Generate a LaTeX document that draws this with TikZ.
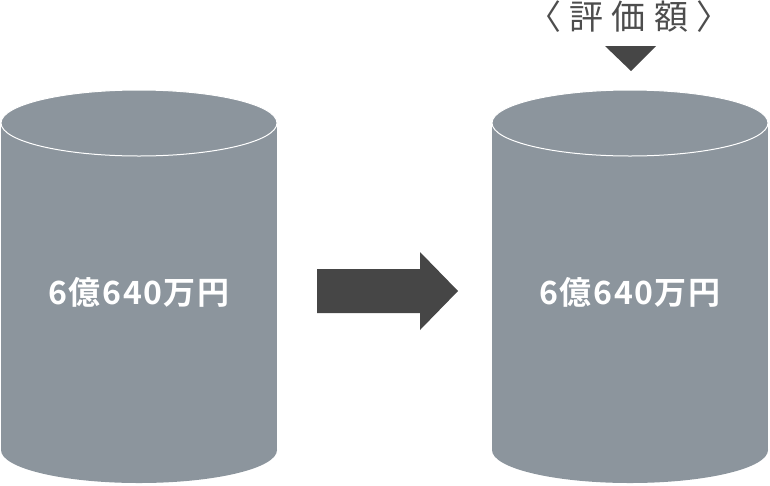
\documentclass[tikz,border=0pt]{standalone}
\usepackage{fontspec}
\newfontfamily\jpfont{Noto Sans CJK JP}[LetterSpace=2]
\newfontfamily\jpbold{Noto Sans CJK JP Bold}[LetterSpace=5]
\definecolor{drum}{HTML}{8C959D}
\definecolor{ink}{HTML}{464646}
\definecolor{headgray}{HTML}{4D4D4D}
\tikzset{
  amount/.style={text=white,font=\jpbold\fontsize{32}{32}\selectfont},
  heading/.style={text=headgray,font=\jpfont\fontsize{34}{34}\selectfont}
}
\begin{document}
\begin{tikzpicture}[x=1pt,y=-1pt]
\useasboundingbox (0,0) rectangle (770,485);
% the two cylinders
\foreach \cx in {139,630}{
  \fill[drum] (\cx-138,123) rectangle (\cx+138,450);
  \fill[drum] (\cx,450) ellipse[x radius=138,y radius=33];
  \filldraw[drum,draw=white,line width=1pt] (\cx,123) ellipse[x radius=138,y radius=33];
}
\node[amount] (before) at (139,292) {6億640万円};
\node[amount] (after) at (630,292) {6億640万円};
% big arrow between them
\fill[ink] (317,269) -- (420,269) -- (420,252) -- (458,291) -- (420,330) -- (420,313) -- (317,313) -- cycle;
% heading and its marker
\node[heading] (label) at (629,17) {〈 評 価 額 〉};
\fill[ink] (605,46) -- (656,46) -- (631,71) -- cycle;
\end{tikzpicture}
\end{document}
